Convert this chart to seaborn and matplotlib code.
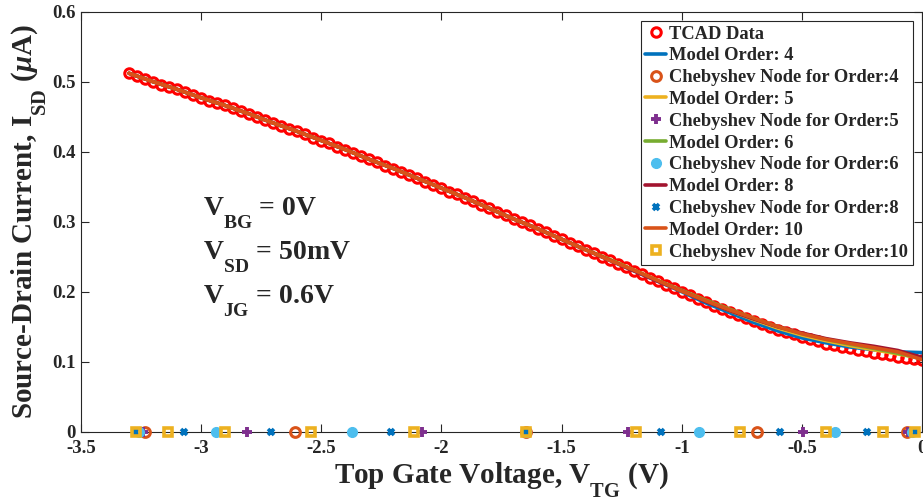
import numpy as np
import matplotlib
matplotlib.use("Agg")
import matplotlib.pyplot as plt
import matplotlib._mathtext as _mt
import seaborn as sns

# ---------------- data ----------------
tcad_start, tcad_stop = -3.3, 0.0
tcad_current = [
    0.512, 0.508, 0.504, 0.500, 0.496, 0.493, 0.489, 0.485, 0.481, 0.477,
    0.473, 0.470, 0.466, 0.462, 0.458, 0.454, 0.450, 0.445, 0.441, 0.437,
    0.433, 0.429, 0.425, 0.420, 0.416, 0.412, 0.407, 0.403, 0.398, 0.394,
    0.389, 0.385, 0.380, 0.376, 0.371, 0.367, 0.362, 0.357, 0.353, 0.348,
    0.343, 0.339, 0.334, 0.329, 0.324, 0.319, 0.314, 0.309, 0.304, 0.299,
    0.295, 0.290, 0.285, 0.280, 0.275, 0.270, 0.265, 0.260, 0.255, 0.250,
    0.245, 0.240, 0.235, 0.230, 0.225, 0.220, 0.215, 0.210, 0.205, 0.200,
    0.195, 0.190, 0.185, 0.180, 0.176, 0.171, 0.167, 0.162, 0.158, 0.154,
    0.150, 0.146, 0.142, 0.139, 0.135, 0.132, 0.129, 0.126, 0.124, 0.121,
    0.119, 0.117, 0.115, 0.113, 0.111, 0.109, 0.107, 0.105, 0.104, 0.102,
]
tcad_vtg = np.linspace(tcad_start, tcad_stop, len(tcad_current))

model_vtg = [-3.3, -3.2, -3.1, -3.0, -2.9, -2.8, -2.7, -2.6, -2.5, -2.4,
             -2.3, -2.2, -2.1, -2.0, -1.9, -1.8, -1.7, -1.6, -1.5, -1.4,
             -1.3, -1.2, -1.1, -1.0, -0.9, -0.8, -0.7, -0.6, -0.5, -0.4,
             -0.3, -0.2, -0.1, 0.0]
common_part = [0.512, 0.500, 0.489, 0.477, 0.466, 0.454, 0.441, 0.429, 0.416, 0.403,
               0.389, 0.376, 0.362, 0.348, 0.334, 0.319, 0.304, 0.290, 0.275, 0.260]
model4 = common_part + [0.245, 0.230, 0.215, 0.200, 0.184, 0.170, 0.156, 0.144, 0.134, 0.127,
                        0.121, 0.117, 0.114, 0.113]
model5 = common_part + [0.246, 0.231, 0.216, 0.201, 0.187, 0.173, 0.160, 0.148, 0.138, 0.130,
                        0.123, 0.117, 0.111, 0.105]
model6 = common_part + [0.246, 0.231, 0.216, 0.202, 0.188, 0.175, 0.162, 0.150, 0.140, 0.132,
                        0.125, 0.119, 0.112, 0.104]
model8 = common_part + [0.245, 0.230, 0.215, 0.201, 0.186, 0.173, 0.161, 0.150, 0.141, 0.133,
                        0.127, 0.122, 0.116, 0.106]
model10 = common_part + [0.245, 0.231, 0.216, 0.201, 0.187, 0.174, 0.162, 0.150, 0.140, 0.132,
                         0.126, 0.120, 0.114, 0.103]

nodes4 = [-3.233, -2.608, -1.650, -0.688, -0.063]
nodes5 = [-3.244, -2.810, -2.079, -1.223, -0.495, -0.058]
nodes6 = [-3.259, -2.938, -2.374, -1.650, -0.927, -0.362, -0.041]
nodes8 = [-3.275, -3.072, -2.709, -2.211, -1.650, -1.087, -0.592, -0.228, -0.025]
nodes10 = [-3.272, -3.140, -2.901, -2.543, -2.113, -1.650, -1.189, -0.759, -0.398, -0.163, -0.030]

xtick_vals = [-3.5, -3.0, -2.5, -2.0, -1.5, -1.0, -0.5, 0.0]
xtick_labels = ["-3.5", "-3", "-2.5", "-2", "-1.5", "-1", "-0.5", "0"]
ytick_vals = [0.0, 0.1, 0.2, 0.3, 0.4, 0.5, 0.6]
ytick_labels = ["0", "0.1", "0.2", "0.3", "0.4", "0.5", "0.6"]

# ---------------- style ----------------
sns.set_style("ticks")
plt.rcParams.update({
    "font.family": ["Liberation Serif", "DejaVu Serif"],
    "font.weight": "bold",
    "mathtext.fontset": "custom",
    "mathtext.rm": "Liberation Serif:bold",
    "mathtext.it": "Liberation Serif:italic:bold",
    "mathtext.bf": "Liberation Serif:bold",
    "axes.edgecolor": "#262626",
    "axes.linewidth": 0.8,
})
# MATLAB-like deep subscripts
_mt.FontConstantsBase.sub1 = 1.05

fig = plt.figure(figsize=(9.23, 5.0), dpi=100)
ax = fig.add_axes([81 / 923, (500 - 431.7) / 500, (922 - 81) / 923, 420 / 500])

c_red = "#FF0000"
c1, c2, c3, c4, c5, c6, c7 = "#0072BD", "#D95319", "#EDB120", "#7E2F8E", "#77AC30", "#4DBEEE", "#A2142F"

sns.lineplot(x=tcad_vtg, y=tcad_current, ax=ax, label="TCAD Data", color=c_red,
             linestyle="", marker="o", markersize=6.8, markerfacecolor="none",
             markeredgecolor=c_red, markeredgewidth=2.2, clip_on=False, zorder=2)

def model(y, col, lab):
    sns.lineplot(x=model_vtg, y=y, ax=ax, color=col, linewidth=2.6, label=lab, zorder=3)

def nodes(xs, col, lab, marker, ms, mew, mfc):
    sns.lineplot(x=xs, y=[0.0] * len(xs), ax=ax, color=col, label=lab, linestyle="",
                 marker=marker, markersize=ms, markerfacecolor=mfc,
                 markeredgecolor=col, markeredgewidth=mew, clip_on=False, zorder=5)

model(model4, c1, "Model Order: 4")
nodes(nodes4, c2, "Chebyshev Node for Order:4", "o", 7, 2.2, "none")
model(model5, c3, "Model Order: 5")
nodes(nodes5, c4, "Chebyshev Node for Order:5", "+", 6.5, 2.8, c4)
model(model6, c5, "Model Order: 6")
nodes(nodes6, c6, "Chebyshev Node for Order:6", "o", 7, 1.0, c6)
model(model8, c7, "Model Order: 8")
nodes(nodes8, c1, "Chebyshev Node for Order:8", "x", 5, 2.6, c1)
model(model10, c2, "Model Order: 10")
nodes(nodes10, c3, "Chebyshev Node for Order:10", "s", 5.2, 2.6, "none")

ax.set_xlim(-3.5, 0)
ax.set_ylim(0, 0.6)
ax.set_xticks(xtick_vals)
ax.set_xticklabels(xtick_labels)
ax.set_yticks(ytick_vals)
ax.set_yticklabels(ytick_labels)
ax.tick_params(axis="both", which="both", direction="in", length=6, width=0.8,
               top=True, right=True, labelsize=13.5, colors="#262626")
ax.tick_params(axis="x", pad=6)
ax.tick_params(axis="y", pad=4)
for lbl in ax.get_xticklabels() + ax.get_yticklabels():
    lbl.set_fontweight("bold")
    lbl.set_color("#262626")
for s in ax.spines.values():
    s.set_visible(True)

ax.set_xlabel(r"Top Gate Voltage, V$_{\mathrm{TG}}$ (V)", fontsize=21, fontweight="bold",
              color="#262626", labelpad=2)
ax.set_ylabel(r"Source-Drain Current, I$_{\mathrm{SD}}$ ($\mu$A)", fontsize=21,
              fontweight="bold", color="#262626", labelpad=2)

ann_x = -2.993
ax.text(ann_x, 0.3096, r"V$_{\mathrm{BG}}$ = 0V", fontsize=20, fontweight="bold", va="baseline")
ax.text(ann_x, 0.2463, r"V$_{\mathrm{SD}}$ = 50mV", fontsize=20, fontweight="bold", va="baseline")
ax.text(ann_x, 0.1830, r"V$_{\mathrm{JG}}$ = 0.6V", fontsize=20, fontweight="bold", va="baseline")

leg = ax.legend(loc="upper right", prop={"weight": "bold", "size": 13.3}, frameon=True,
                fancybox=False, edgecolor="#262626", framealpha=1, borderpad=0.25,
                labelspacing=0.26, handlelength=1.15, handletextpad=0.15,
                borderaxespad=0.5)
leg.get_frame().set_linewidth(0.8)
leg.set_zorder(10)

fig.savefig("out.png", dpi=100)
